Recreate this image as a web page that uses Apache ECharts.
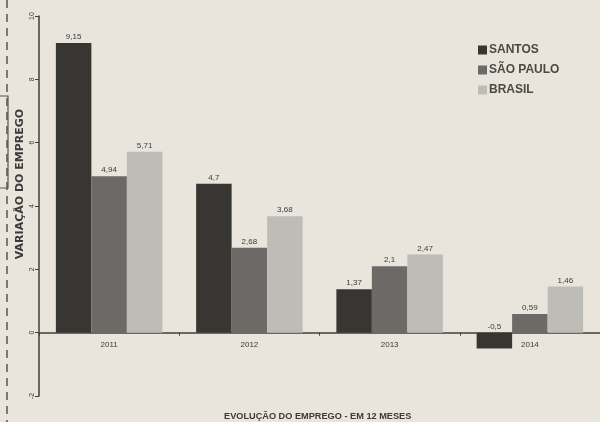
<!DOCTYPE html>
<html><head><meta charset="utf-8">
<script src="https://cdn.jsdelivr.net/npm/echarts@6/dist/echarts.min.js"></script>
<style>html,body{margin:0;padding:0;background:#e9e5dc}#c{width:600px;height:422px}</style>
</head><body><div id="c"></div>
<script>
const categories = ['2011', '2012', '2013', '2014'];
const santos = [9.15, 4.7, 1.37, -0.5];
const saoPaulo = [4.94, 2.68, 2.1, 0.59];
const brasil = [5.71, 3.68, 2.47, 1.46];
const seriesNames = ['SANTOS', 'SÃO PAULO', 'BRASIL'];
const colors = ['#373632', '#6c6a66', '#bebcb6'];
const yTicks = { min: -2, max: 10, interval: 2 };
const yAxisTitle = 'VARIAÇÃO DO EMPREGO';
const chartTitle = 'EVOLUÇÃO DO EMPREGO - EM 12 MESES';

const fmt = p => String(p.value).replace('.', ',');
function mk(name, data, color) {
  return {
    name, type: 'bar', data, barWidth: 35.5, barGap: '0%',
    itemStyle: { color },
    label: { show: true, position: 'top', formatter: fmt, fontSize: 8, color: '#3a3a3a', fontFamily: 'Liberation Sans', distance: 2 }
  };
}
const chart = echarts.init(document.getElementById('c'));
chart.setOption({
  backgroundColor: '#e9e5dc',
  animation: false,
  grid: { left: 39, top: 16, bottom: 26, width: 570 },
  legend: {
    orient: 'vertical', left: 473, top: 39, itemWidth: 9, itemHeight: 9, itemGap: 8,
    icon: 'rect',
    textStyle: { fontSize: 12, fontWeight: 'bold', color: '#4a4945', fontFamily: 'Liberation Sans', padding: [0, 0, 0, -3] },
    data: seriesNames
  },
  xAxis: {
    type: 'category', data: categories,
    offset: -63.3,
    axisLine: { onZero: false, lineStyle: { color: '#3f3f38', width: 1.5 } },
    axisTick: { show: true, length: 3, lineStyle: { color: '#3f3f38' } },
    axisLabel: { fontSize: 8, color: '#3a3a3a', margin: 8, fontFamily: 'Liberation Sans' }
  },
  yAxis: {
    type: 'value', min: yTicks.min, max: yTicks.max, interval: yTicks.interval,
    axisLine: { show: true, lineStyle: { color: '#3f3f38', width: 1.5 } },
    axisTick: { show: true, length: 4, lineStyle: { color: '#3f3f38' } },
    splitLine: { show: false },
    axisLabel: { fontSize: 7, color: '#3a3a3a', rotate: 90, margin: 3, fontFamily: 'Liberation Sans' }
  },
  graphic: [
    { type: 'text', x: 20, y: 184, rotation: Math.PI / 2, style: { text: yAxisTitle, align: 'center', verticalAlign: 'middle', fontSize: 11, fontWeight: 'bold', fill: '#3a3a3a', fontFamily: 'DejaVu Sans' } },
    { type: 'text', left: 224, top: 412, style: { text: chartTitle, fontSize: 9.2, fontWeight: 'bold', fill: '#3a3a3a', fontFamily: 'Liberation Sans' } },
    { type: 'line', shape: { x1: 7, y1: 0, x2: 7, y2: 422 }, style: { stroke: '#55544f', lineWidth: 1.5, lineDash: [8, 6] } },
    { type: 'rect', shape: { x: -2, y: 96, width: 10, height: 92 }, style: { fill: 'rgba(0,0,0,0)', stroke: '#55544f', lineWidth: 1.2 } }
  ],
  series: [mk(seriesNames[0], santos, colors[0]), mk(seriesNames[1], saoPaulo, colors[1]), mk(seriesNames[2], brasil, colors[2])]
});
</script></body></html>
